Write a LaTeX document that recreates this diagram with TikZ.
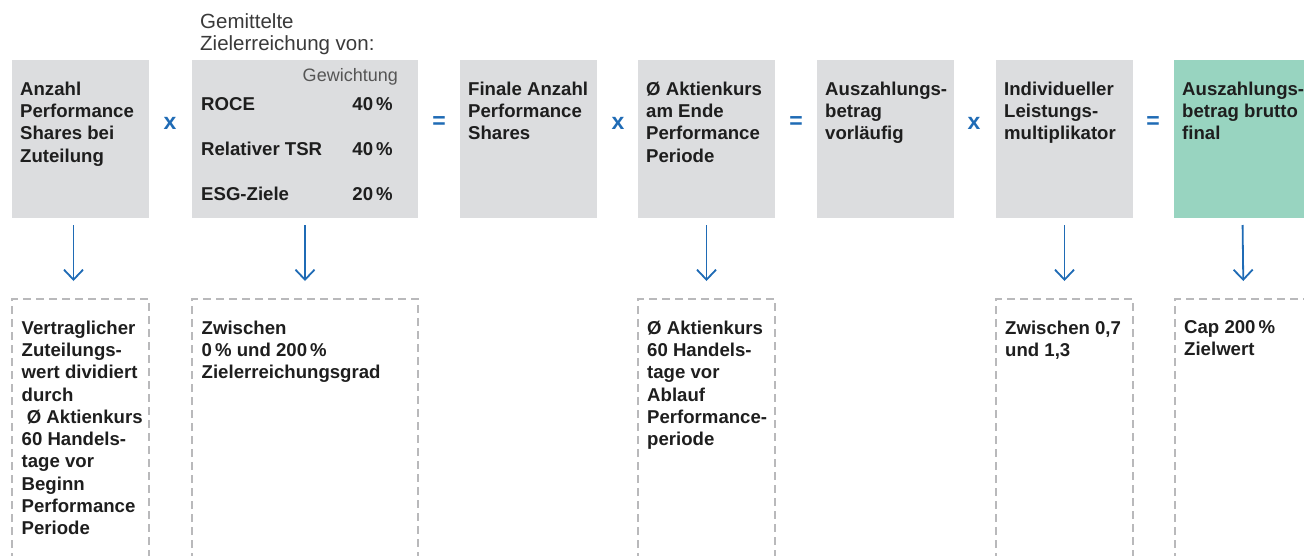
\documentclass[tikz,border=0pt]{standalone}
\usepackage{fontspec}
\setmainfont{Liberation Sans}
\usetikzlibrary{arrows.meta,calc}
\definecolor{boxgray}{HTML}{DCDDDF}
\definecolor{boxgreen}{HTML}{98D4C0}
\definecolor{opblue}{HTML}{1F6BB5}
\definecolor{dashgray}{HTML}{B9B9BB}
\definecolor{txt}{HTML}{1E1E1E}
\definecolor{lighttxt}{HTML}{3A3A3A}
\definecolor{weighttxt}{HTML}{555555}
\tikzset{
  box/.style={anchor=north west, minimum height=158pt, inner sep=0pt, outer sep=0pt, fill=boxgray},
  greenbox/.style={box, fill=boxgreen},
  dbox/.style={anchor=north west, minimum height=262pt, inner sep=0pt, outer sep=0pt},
  dashline/.style={draw=dashgray, line width=2.8pt, dash pattern=on 8pt off 5pt},
  maintxt/.style={anchor=north west, inner sep=0pt, align=left, text=txt,
    font=\fontsize{18.6}{22.3}\selectfont\bfseries},
  rowtxt/.style={inner sep=0pt, text=txt, font=\fontsize{18.6}{22}\selectfont\bfseries},
  op/.style={inner sep=0pt, text=opblue, font=\fontsize{23}{23}\selectfont\bfseries},
  arr/.style={draw=opblue, line width=1.8pt, -{Straight Barb[length=10pt,width=19pt,line width=1.8pt]}}
}
\begin{document}
\begin{tikzpicture}[x=1pt,y=-1pt]
\useasboundingbox (0,0) rectangle (1304,555);
\clip (0,0) rectangle (1304,555);

% heading above box 2
\node[anchor=base west, inner sep=0pt, text=lighttxt,
  font=\fontsize{20.5}{22}\selectfont] (head) at (200,28) {Gemittelte};
\node[anchor=base west, inner sep=0pt, text=lighttxt,
  font=\fontsize{20.5}{22}\selectfont] (head2) at (200,50) {Zielerreichung von:};

% top boxes
\node[box, minimum width=137pt] (b1) at (12,60) {};
\node[box, minimum width=226pt] (b2) at (192,60) {};
\node[box, minimum width=137pt] (b3) at (460,60) {};
\node[box, minimum width=137pt] (b4) at (638,60) {};
\node[box, minimum width=137pt] (b5) at (817,60) {};
\node[box, minimum width=137pt] (b6) at (996,60) {};
\node[greenbox, minimum width=137pt] (b7) at (1174,60) {};

% box texts
\node[maintxt] (t1) at (20,81.5) {Anzahl\\Performance\\Shares bei\\Zuteilung};
\node[maintxt] (t3) at (468,81.5) {Finale Anzahl\\Performance\\Shares};
\node[maintxt] (t4) at (646,81.5) {Ø Aktienkurs\\am Ende\\Performance\\Periode};
\node[maintxt] (t5) at (825,81.5) {Auszahlungs-\\betrag\\vorläufig};
\node[maintxt] (t6) at (1004,81.5) {Individueller\\Leistungs-\\multiplikator};
\node[maintxt] (t7) at (1182,81.5) {Auszahlungs-\\betrag brutto\\final};

% box 2 table
\node[anchor=base east, inner sep=0pt, text=weighttxt,
  font=\fontsize{18}{22}\selectfont] (gew) at (398,81) {Gewichtung};
\node[rowtxt, anchor=base west] (r1) at (201,110) {ROCE};
\node[rowtxt, anchor=base east] (p1) at (393,110) {40\,\%};
\node[rowtxt, anchor=base west] (r2) at (201,155) {Relativer TSR};
\node[rowtxt, anchor=base east] (p2) at (393,155) {40\,\%};
\node[rowtxt, anchor=base west] (r3) at (201,200) {ESG-Ziele};
\node[rowtxt, anchor=base east] (p3) at (393,200) {20\,\%};

% operators
\node[op] (o1) at (170,123.5) {x};
\node[op] (o2) at (439,122.5) {=};
\node[op] (o3) at (618,123.5) {x};
\node[op] (o4) at (796,122.5) {=};
\node[op] (o5) at (974,123.5) {x};
\node[op] (o6) at (1153,122.5) {=};

% dashed boxes (open at bottom)
\node[dbox, minimum width=137pt] (d1) at (12,299) {};
\node[dbox, minimum width=226pt] (d2) at (192,299) {};
\node[dbox, minimum width=137pt] (d4) at (638,299) {};
\node[dbox, minimum width=137pt] (d6) at (996,299) {};
\node[dbox, minimum width=137pt] (d7) at (1175,299) {};
\foreach \d in {d1,d2,d4,d6,d7}{
  \draw[dashline] (\d.south west) |- (\d.north east) -- (\d.south east);
}

% dashed box texts
\node[maintxt] (u1) at (21.5,320.5) {Vertraglicher\\Zuteilungs-\\wert dividiert\\durch\\\ Ø Aktienkurs\\60 Handels-\\tage vor\\Beginn\\Performance\\Periode};
\node[maintxt] (u2) at (201.5,320.5) {Zwischen\\0\,\% und 200\,\%\\Zielerreichungsgrad};
\node[maintxt] (u4) at (647,320.5) {Ø Aktienkurs\\60 Handels-\\tage vor\\Ablauf\\Performance-\\periode};
\node[maintxt] (u6) at (1005,320.5) {Zwischen 0,7\\und 1,3};
\node[maintxt] (u7) at (1184,320.5) {Cap 200\,\%\\Zielwert};

% arrows
\coordinate (a1s) at ($(b1.south)+(-7,0)$);
\coordinate (a1e) at ($(d1.north)+(-7,0)$);
\draw[arr, shorten <=7pt, shorten >=18pt] (a1s) -- (a1e);
\draw[arr, shorten <=7pt, shorten >=18pt] (b2.south) -- (d2.north);
\draw[arr, shorten <=7pt, shorten >=18pt] (b4.south) -- (d4.north);
\draw[arr, shorten <=7pt, shorten >=18pt] (b6.south) -- (d6.north);
\draw[arr, shorten <=7pt, shorten >=18pt] (b7.south) -- (d7.north);
\end{tikzpicture}
\end{document}
